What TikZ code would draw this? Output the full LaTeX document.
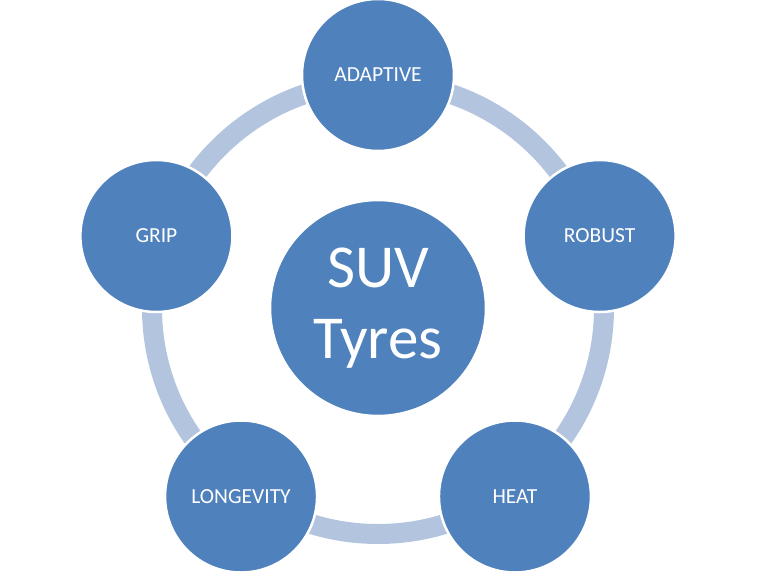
\documentclass[tikz,border=0pt]{standalone}
\usepackage{fontspec}
\setmainfont{Carlito}
\usetikzlibrary{calc}
\definecolor{nodeblue}{HTML}{4F81BD}
\definecolor{ringblue}{HTML}{B3C4DF}
\begin{document}
\begin{tikzpicture}[x=1pt,y=-1pt,
  outer/.style={circle,fill=nodeblue,draw=white,line width=2.5pt,minimum size=152pt,inner sep=0pt,text=white,font=\fontsize{21.5}{26}\selectfont},
  hub/.style={circle,fill=nodeblue,draw=white,line width=1.5pt,minimum size=215pt,inner sep=0pt,text=white,align=center,font=\fontsize{61}{71}\selectfont},
  ring/.style={draw=ringblue,line width=20pt}]
\useasboundingbox (0,0) rectangle (768,576);
\coordinate (c) at (378,308);
\draw[ring] (c) circle[radius=226];
\node[hub] (hub) at (c) {SUV\\Tyres};
\node[outer] (adaptive) at ($(c)+(-90:233)$) {ADAPTIVE};
\node[outer] (robust) at ($(c)+(-18:233)$) {ROBUST};
\node[outer] (heat) at ($(c)+(54:233)$) {HEAT};
\node[outer] (longevity) at ($(c)+(126:233)$) {LONGEVITY};
\node[outer] (grip) at ($(c)+(198:233)$) {GRIP};
\end{tikzpicture}
\end{document}
